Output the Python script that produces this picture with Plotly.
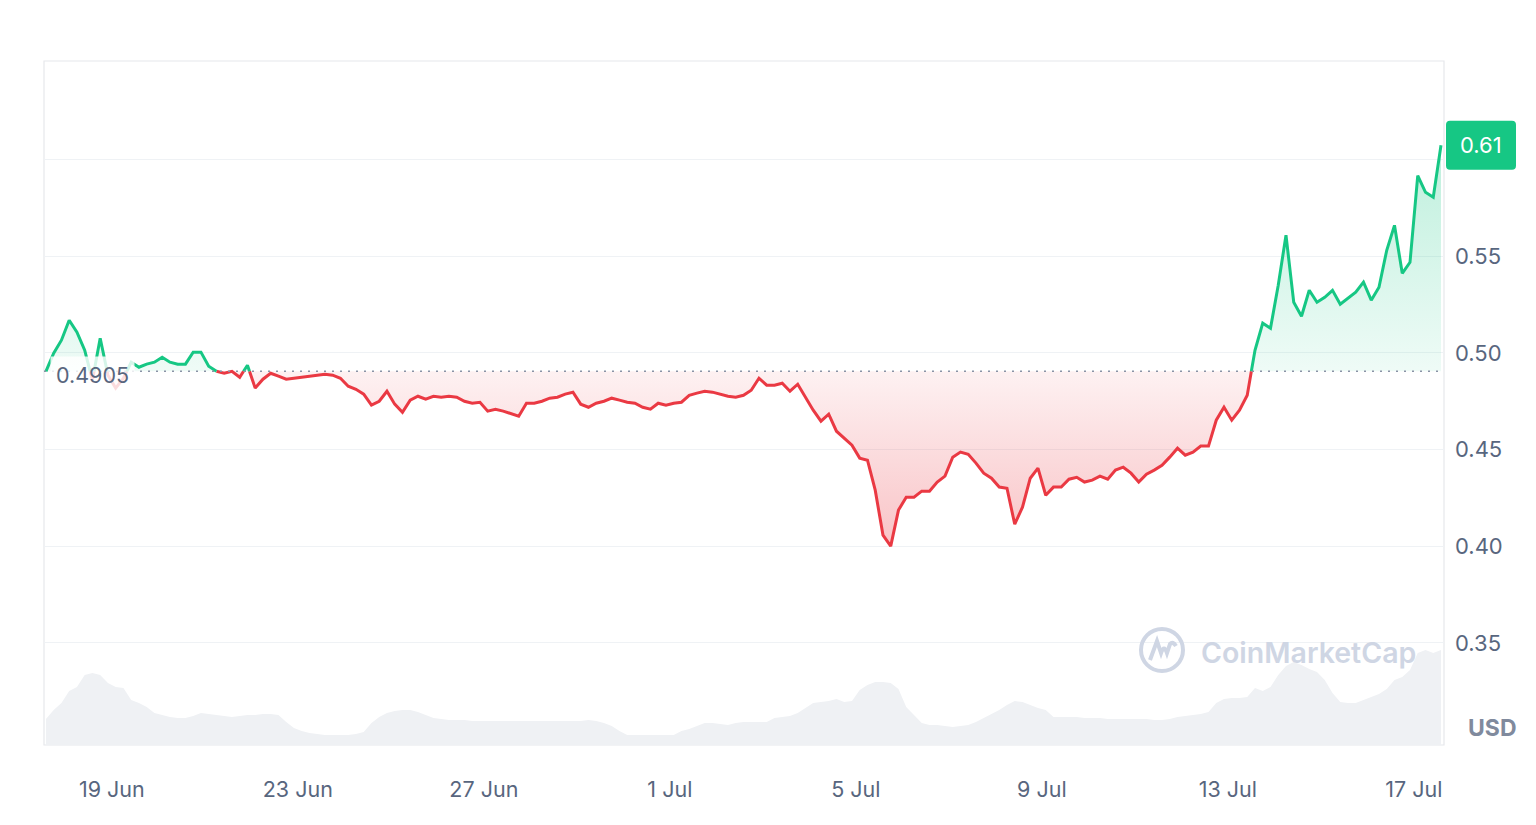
import pandas as pd
import plotly.graph_objects as go

# ---------------- data (XRP / USD, 30 days, 4-hour samples) ----------------
start_time = "2024-06-17 14:00"
step = "4h"
base_price = 0.4905  # opening price of the period

prices = [
    0.4905, 0.4999, 0.5066, 0.5169, 0.5107, 0.5014, 0.4859, 0.5076, 0.4885, 0.4818,
    0.4869, 0.4952, 0.4926, 0.4942, 0.4952, 0.4978, 0.4952, 0.4942, 0.4942, 0.5004,
    0.5004, 0.4931, 0.4905, 0.4895, 0.4905, 0.4874, 0.4936, 0.4818, 0.4864, 0.4895,
    0.4880, 0.4864, 0.4869, 0.4874, 0.4880, 0.4885, 0.4890, 0.4885, 0.4869, 0.4828,
    0.4812, 0.4787, 0.4730, 0.4750, 0.4802, 0.4735, 0.4693, 0.4756, 0.4776, 0.4761,
    0.4776, 0.4771, 0.4776, 0.4771, 0.4750, 0.4740, 0.4745, 0.4699, 0.4709, 0.4699,
    0.4688, 0.4673, 0.4740, 0.4740, 0.4750, 0.4766, 0.4771, 0.4787, 0.4797, 0.4735,
    0.4719, 0.4740, 0.4750, 0.4766, 0.4756, 0.4745, 0.4740, 0.4719, 0.4709, 0.4740,
    0.4730, 0.4740, 0.4745, 0.4781, 0.4792, 0.4802, 0.4797, 0.4787, 0.4776, 0.4771,
    0.4781, 0.4807, 0.4869, 0.4833, 0.4833, 0.4843, 0.4802, 0.4838, 0.4771, 0.4704,
    0.4647, 0.4683, 0.4595, 0.4559, 0.4523, 0.4456, 0.4445, 0.4290, 0.4058, 0.4001,
    0.4187, 0.4254, 0.4254, 0.4285, 0.4285, 0.4332, 0.4363, 0.4461, 0.4487, 0.4476,
    0.4430, 0.4378, 0.4352, 0.4306, 0.4300, 0.4114, 0.4202, 0.4352, 0.4404, 0.4264,
    0.4306, 0.4306, 0.4347, 0.4357, 0.4332, 0.4342, 0.4363, 0.4347, 0.4394, 0.4409,
    0.4378, 0.4332, 0.4373, 0.4394, 0.4419, 0.4461, 0.4507, 0.4471, 0.4487, 0.4518,
    0.4518, 0.4652, 0.4719, 0.4652, 0.4704, 0.4781, 0.5014, 0.5154, 0.5128, 0.5350,
    0.5609, 0.5262, 0.5190, 0.5324, 0.5262, 0.5288, 0.5324, 0.5252, 0.5283, 0.5314,
    0.5366, 0.5273, 0.5340, 0.5531, 0.5660, 0.5412, 0.5469, 0.5917, 0.5831, 0.5805,
    0.6074,
]

volume_musd = [
    1040, 1400, 1680, 2160, 2320, 2800, 2880, 2800, 2480, 2320,
    2280, 1800, 1680, 1520, 1280, 1200, 1120, 1080, 1080, 1160,
    1280, 1240, 1200, 1160, 1120, 1160, 1200, 1200, 1240, 1240,
    1200, 920, 680, 560, 480, 440, 400, 400, 400, 400,
    440, 520, 880, 1120, 1280, 1360, 1400, 1400, 1320, 1200,
    1080, 1040, 1000, 1000, 1000, 960, 960, 960, 960, 960,
    960, 960, 960, 960, 960, 960, 960, 960, 960, 960,
    1000, 960, 880, 760, 560, 400, 400, 400, 400, 400,
    400, 400, 560, 640, 760, 880, 880, 840, 800, 880,
    920, 920, 920, 920, 1080, 1120, 1160, 1280, 1480, 1680,
    1720, 1760, 1840, 1720, 1760, 2200, 2400, 2520, 2520, 2480,
    2240, 1520, 1200, 880, 800, 800, 760, 720, 760, 800,
    920, 1080, 1240, 1400, 1600, 1760, 1720, 1600, 1480, 1400,
    1120, 1120, 1120, 1120, 1080, 1080, 1080, 1040, 1040, 1040,
    1040, 1040, 1040, 1000, 1000, 1040, 1120, 1160, 1200, 1240,
    1320, 1680, 1840, 1880, 1880, 1920, 2280, 2160, 2320, 2800,
    3160, 3320, 3200, 3040, 2920, 2600, 2080, 1720, 1680, 1680,
    1800, 1920, 2040, 2240, 2600, 2720, 3000, 3680, 3800, 3680,
    3800,
]

tick_dates = ["2024-06-19", "2024-06-23", "2024-06-27", "2024-07-01",
              "2024-07-05", "2024-07-09", "2024-07-13", "2024-07-17"]
tick_labels = ["19 Jun", "23 Jun", "27 Jun", "1 Jul", "5 Jul", "9 Jul", "13 Jul", "17 Jul"]
price_ticks = [0.35, 0.40, 0.45, 0.50, 0.55, 0.60]
price_tick_labels = ["0.35", "0.40", "0.45", "0.50", "0.55", ""]

x_range = ["2024-06-17 13:00", "2024-07-17 15:33"]
y_range = [0.2972, 0.6510]

GREEN = "#16c784"
RED = "#ea3943"
GRID = "#eff2f5"
TEXT = "#58667e"

times = pd.date_range(start_time, periods=len(prices), freq=step)
vol_times = pd.date_range(start_time, periods=len(volume_musd), freq=step)

# ---------------- split series at the opening price ----------------
tn = times.asi8.astype(float)
up_x, up_y, up_line = [], [], []
dn_x, dn_y, dn_line = [], [], []
for i, p in enumerate(prices):
    if i > 0:
        p0 = prices[i - 1]
        if (p0 - base_price) * (p - base_price) < 0:
            f = (base_price - p0) / (p - p0)
            tc = tn[i - 1] + f * (tn[i] - tn[i - 1])
            for xs, ys, ls in ((up_x, up_y, up_line), (dn_x, dn_y, dn_line)):
                xs.append(tc)
                ys.append(base_price)
                ls.append(base_price)
    up_x.append(tn[i]); up_y.append(max(p, base_price))
    up_line.append(p if p >= base_price else None)
    dn_x.append(tn[i]); dn_y.append(min(p, base_price))
    dn_line.append(p if p <= base_price else None)

up_x = pd.to_datetime(up_x, unit="ns")
dn_x = pd.to_datetime(dn_x, unit="ns")

fig = go.Figure()

# volume (secondary axis)
fig.add_trace(go.Scatter(
    x=vol_times, y=volume_musd, yaxis="y2", mode="lines",
    line=dict(width=0, color="#eff1f4"),
    fill="tozeroy", fillcolor="#eff1f4", hoverinfo="skip", showlegend=False))

# green fill (above opening price)
fig.add_trace(go.Scatter(x=up_x, y=[base_price] * len(up_x), mode="lines",
                         line=dict(width=0), hoverinfo="skip", showlegend=False))
fig.add_trace(go.Scatter(
    x=up_x, y=up_y, mode="lines", line=dict(width=0), fill="tonexty",
    fillgradient=dict(type="vertical",
                      colorscale=[[0, "rgba(22,199,132,0.07)"], [1, "rgba(22,199,132,0.28)"]]),
    hoverinfo="skip", showlegend=False))

# red fill (below opening price)
fig.add_trace(go.Scatter(x=dn_x, y=[base_price] * len(dn_x), mode="lines",
                         line=dict(width=0), hoverinfo="skip", showlegend=False))
fig.add_trace(go.Scatter(
    x=dn_x, y=dn_y, mode="lines", line=dict(width=0), fill="tonexty",
    fillgradient=dict(type="vertical",
                      colorscale=[[0, "rgba(234,57,67,0.30)"], [1, "rgba(234,57,67,0.07)"]]),
    hoverinfo="skip", showlegend=False))

# price lines
fig.add_trace(go.Scatter(x=dn_x, y=dn_line, mode="lines",
                         line=dict(color=RED, width=3), showlegend=False))
fig.add_trace(go.Scatter(x=up_x, y=up_line, mode="lines",
                         line=dict(color=GREEN, width=3), showlegend=False))

last_price = prices[-1]

logo_x = (1162 - 44) / 1400
logo_y = (745 - 650) / 684

shapes = [
    # plot frame
    dict(type="rect", xref="paper", yref="paper", x0=0, x1=1, y0=0, y1=1,
         line=dict(color="#e6e8ec", width=1.2), layer="below"),
    # opening-price dotted line
    dict(type="line", xref="paper", yref="y", x0=0, x1=1, y0=base_price, y1=base_price,
         line=dict(color="#8a93a6", width=1.6, dash="2px,6px")),
    # last price badge (rounded rectangle)
    dict(type="path", xref="paper", yref="y", xsizemode="pixel", ysizemode="pixel",
         xanchor=1, yanchor=last_price,
         path="M 6 -24.5 L 68 -24.5 Q 72 -24.5 72 -20.5 L 72 20.5 Q 72 24.5 68 24.5 "
              "L 6 24.5 Q 2 24.5 2 20.5 L 2 -20.5 Q 2 -24.5 6 -24.5 Z",
         fillcolor=GREEN, line=dict(width=0), layer="above"),
    # watermark logo
    dict(type="circle", xref="paper", yref="paper", xsizemode="pixel", ysizemode="pixel",
         xanchor=logo_x, yanchor=logo_y,
         x0=-21, x1=21, y0=-21, y1=21, line=dict(color="#cfd6e4", width=4)),
    dict(type="path", xref="paper", yref="paper", xsizemode="pixel", ysizemode="pixel",
         xanchor=logo_x, yanchor=logo_y,
         path="M -12 -10 L -5 9 L -1 -3 Q 2 6 5 -3 L 8 6 Q 11 9 14 4",
         line=dict(color="#cfd6e4", width=4)),
]

annotations = [
    dict(text=f"{base_price:.4f}", xref="paper", yref="y", x=0, y=base_price,
         xanchor="left", yanchor="middle", xshift=6, yshift=-4, showarrow=False,
         font=dict(size=21.5, color=TEXT, family="Inter"),
         bgcolor="rgba(255,255,255,0.82)", borderpad=5),
    dict(text=f"{last_price:.2f}", xref="paper", yref="y", x=1, y=last_price,
         xanchor="center", yanchor="middle", xshift=37, showarrow=False,
         font=dict(size=22, color="white", family="Inter")),
    dict(text="<b>USD</b>", xref="paper", yref="paper", x=1, y=(745 - 728) / 684,
         xanchor="center", yanchor="middle", xshift=48, showarrow=False,
         font=dict(size=23, color="#808a9d", family="Inter")),
    dict(text="CoinMarketCap", xref="paper", yref="paper", x=(1199 - 44) / 1400,
         y=(745 - 652) / 684, xanchor="left", yanchor="middle", showarrow=False,
         font=dict(size=28.5, color="#cfd6e4", family="Inter", weight=600)),
]

# the page body has an 8px default margin, so the figure is 16px smaller
fig.update_layout(
    width=1520, height=809,
    margin=dict(l=36, r=84, t=53, b=72),
    paper_bgcolor="white", plot_bgcolor="white",
    font=dict(family="Inter", color=TEXT),
    showlegend=False,
    xaxis=dict(type="date", range=x_range, tickvals=tick_dates, ticktext=tick_labels,
               showgrid=False, zeroline=False, showline=False, ticks="",
               tickfont=dict(size=21.5, color=TEXT), ticklabelstandoff=29,
               fixedrange=True),
    yaxis=dict(side="right", range=y_range, tickvals=price_ticks, ticktext=price_tick_labels,
               showgrid=True, gridcolor=GRID, gridwidth=1.2, zeroline=False,
               showline=False, ticks="", tickfont=dict(size=22, color=TEXT),
               ticklabelstandoff=10),
    yaxis2=dict(overlaying="y", range=[0, 684 * 40], showgrid=False, showticklabels=False,
                zeroline=False, visible=False),
    shapes=shapes,
    annotations=annotations,
)

fig.write_html("out.html")
